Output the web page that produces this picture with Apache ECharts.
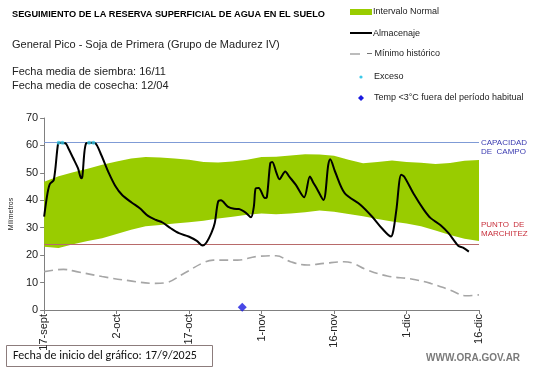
<!DOCTYPE html>
<html><head><meta charset="utf-8">
<script src="https://cdn.jsdelivr.net/npm/echarts@6/dist/echarts.min.js"></script>
<style>html,body{margin:0;padding:0;background:#fff}#c{width:541px;height:368px}</style>
</head><body><div id="c"></div>
<script>
// X: days since 17/9/2025
var tickLabels = ['17-sept','2-oct','17-oct','1-nov','16-nov','1-dic','16-dic'];
var bandDays  = [0,3,6,9,12,15,18,21,24,27,30,33,36,39,42,45,48,51,54,57,60,63,66,69,72,75,78,81,84,87,90];
var bandUpper = [46.8,48.8,50.2,51.5,53,54.1,55.2,55.8,55.6,55.2,54.8,54,53.8,54.1,54.8,55.8,55.9,56.3,56.8,56.7,56.2,54.8,53.5,54,54.5,54,53.7,53.2,53.6,54.4,54.7];
var bandLower = [23.1,22.6,24,25.2,26.2,27.7,29.3,30.5,31,31.5,32,32.5,33.4,34,34.7,35.2,34.9,35.2,35.6,36.3,35.8,35,34.2,33.2,32.3,31.5,30.5,29,27.3,26,25.2];
var almDays = [0,0.7,1.2,2,2.9,3.3,4.4,5,6,7,7.7,7.9,8.7,9.8,10.6,11.8,13.4,14.8,16.1,18.1,19.8,21.5,23.2,24.5,26.2,27.9,29.9,31.6,32.8,33.6,34.6,35.3,36,36.6,38,39.3,40.3,41.7,42.8,43.4,43.8,44.4,45.7,46.1,46.8,47.2,48.1,48.7,49.9,50.7,52.1,53.8,55,55.6,56.4,57.8,58.8,59.2,60.2,62.2,65.5,67.9,69.9,71.8,72.3,72.9,73.9,74.5,76.6,78.6,80,82,83.7,85.7,86.7,87.9];
var almVals = [34,42.6,46,47.4,60.8,61,60.8,59,55.4,51.7,48,48.5,60.8,61,60.8,56.6,49.9,45,42,39.2,37.1,34.3,32.8,31.9,29.8,28,26.8,25.2,23.5,24.6,28,31.6,39.5,40,37.7,36.9,36.8,35.5,33.8,37.7,44.4,44.5,40.8,41.2,53.5,54,49.9,47.7,50.5,48.7,45.6,41.1,48.7,46.8,44.4,40.1,52.9,55,50.5,42.6,38.3,34,29.8,26.8,29.2,36.5,49.3,48.7,42,36.5,33.5,31,28,23.4,22.7,21.3];
var minDays = [0,4,6.7,12,17.5,23,25,29,33,35,40,44,48,51,54.5,58,62,64,66.6,71,76,80,84,87.4,90];
var minVals = [14,14.8,14,12.2,10.7,9.7,9.9,13.4,17.3,18.2,18.2,19.5,19.8,17.6,16.4,17,17.6,17,14.8,12.4,11.3,9.7,7.3,5.2,5.5];
var excesoDays = [3,3.8,9.3,10.2];
var excesoVals = [61,61,61,61];
var tempDays = [41];
var tempVals = [1];
var capacidadCampo = 61;
var puntoMarchitez = 24;

function pairs(a,b){return a.map(function(d,i){return [d,b[i]];});}
var bandData = bandDays.map(function(d,i){return [d,bandLower[i],bandUpper[i]];});

var chart = echarts.init(document.getElementById('c'));
var F = 'Liberation Sans, Arial, sans-serif';
chart.setOption({
  animation:false,
  textStyle:{fontFamily:F},
  grid:{left:33,right:62,top:118,bottom:58},
  xAxis:{type:'value',min:0,max:90,interval:15,
    axisLine:{lineStyle:{color:'#808080'}},
    axisTick:{length:4,lineStyle:{color:'#808080'}},
    splitLine:{show:false},
    axisLabel:{rotate:90,fontSize:11,color:'#222',fontFamily:F,margin:4,
      formatter:function(v){return tickLabels[Math.round(v/15)]||'';}}},
  yAxis:{type:'value',min:0,max:70,interval:10,name:'Milímetros',nameLocation:'middle',nameGap:20,
    nameTextStyle:{fontSize:7,color:'#222',fontFamily:F},
    axisLine:{show:true,lineStyle:{color:'#808080'}},
    axisTick:{show:true,length:4,lineStyle:{color:'#808080'}},
    splitLine:{show:false},
    axisLabel:{fontSize:11,color:'#222',margin:6}},
  series:[
    {type:'custom',name:'Intervalo Normal',data:bandData,z:1,
     renderItem:function(params,api){
       if(params.dataIndex!==0) return null;
       var pts=[];
       for(var i=0;i<bandData.length;i++) pts.push(api.coord([bandData[i][0],bandData[i][2]]));
       for(var j=bandData.length-1;j>=0;j--) pts.push(api.coord([bandData[j][0],bandData[j][1]]));
       return {type:'polygon',shape:{points:pts},style:{fill:'#99cc00'}};
     },encode:{x:0,y:[1,2]}},
    {type:'line',name:'refs',data:[],z:3,
     markLine:{silent:true,symbol:'none',label:{show:false},
       data:[{yAxis:capacidadCampo,lineStyle:{color:'#7f9bd6',width:1,type:'solid'}},
             {yAxis:puntoMarchitez,lineStyle:{color:'#b86a6a',width:1.2,type:'solid'}}]}},
    {type:'line',name:'Mínimo histórico',data:pairs(minDays,minVals),smooth:0.4,showSymbol:false,z:4,
     lineStyle:{color:'#a6a6a6',width:1.6,type:[9,5]}},
    {type:'line',name:'Almacenaje',data:pairs(almDays,almVals),smooth:0.3,showSymbol:false,z:5,
     lineStyle:{color:'#000',width:2}},
    {type:'scatter',name:'Exceso',data:pairs(excesoDays,excesoVals),symbolSize:4,z:6,
     itemStyle:{color:'#3cc8e8'}},
    {type:'scatter',name:'Temp',data:pairs(tempDays,tempVals),symbol:'diamond',symbolSize:9,z:6,
     itemStyle:{color:'#1a1ae0'}}
  ],
  graphic:[
    {type:'text',left:12,top:10,style:{text:'SEGUIMIENTO DE LA RESERVA SUPERFICIAL DE AGUA EN EL SUELO',font:'bold 9.2px '+F,fill:'#000'}},
    {type:'text',left:12,top:39,style:{text:'General Pico - Soja de Primera (Grupo de Madurez IV)',font:'11px '+F,fill:'#222'}},
    {type:'text',left:12,top:66,style:{text:'Fecha media de siembra: 16/11',font:'11px '+F,fill:'#222'}},
    {type:'text',left:12,top:80,style:{text:'Fecha media de cosecha: 12/04',font:'11px '+F,fill:'#222'}},
    {type:'rect',shape:{x:350,y:9,width:22,height:6},style:{fill:'#99cc00'}},
    {type:'text',left:373,top:7,style:{text:'Intervalo Normal',font:'9px '+F,fill:'#222'}},
    {type:'line',shape:{x1:350,y1:33,x2:372,y2:33},style:{stroke:'#000',lineWidth:2}},
    {type:'text',left:373,top:29,style:{text:'Almacenaje',font:'9px '+F,fill:'#222'}},
    {type:'line',shape:{x1:350,y1:54,x2:360,y2:54},style:{stroke:'#a6a6a6',lineWidth:1.5}},
    {type:'text',left:367,top:49,style:{text:'– Mínimo histórico',font:'9px '+F,fill:'#222'}},
    {type:'circle',shape:{cx:361,cy:77,r:1.6},style:{fill:'#3cc8e8'}},
    {type:'text',left:374,top:72,style:{text:'Exceso',font:'9px '+F,fill:'#222'}},
    {type:'polygon',shape:{points:[[361,95],[364,98],[361,101],[358,98]]},style:{fill:'#1a1ae0'}},
    {type:'text',left:374,top:93,style:{text:'Temp <3°C fuera del período habitual',font:'9px '+F,fill:'#222'}},
    {type:'text',left:481,top:138,style:{text:'CAPACIDAD\nDE  CAMPO',font:'8px '+F,fill:'#3a3ab0',lineHeight:9}},
    {type:'text',left:481,top:220,style:{text:'PUNTO  DE\nMARCHITEZ',font:'8px '+F,fill:'#c8303c',lineHeight:9}},
    {type:'rect',shape:{x:6.5,y:345.5,width:206,height:21},style:{fill:'#fff',stroke:'#8c7c7c',lineWidth:1}},
    {type:'text',left:13,top:350,style:{text:'Fecha de inicio del gráfico:',font:'12px Carlito, "Open Sans", '+F,fill:'#111'}},
    {type:'text',left:145,top:350,style:{text:'17/9/2025',font:'12px Carlito, "Open Sans", '+F,fill:'#111'}},
    {type:'text',left:426,top:353,style:{text:'WWW.ORA.GOV.AR',font:'bold 10px '+F,fill:'#7a7a7a'}}
  ]
});
</script></body></html>
